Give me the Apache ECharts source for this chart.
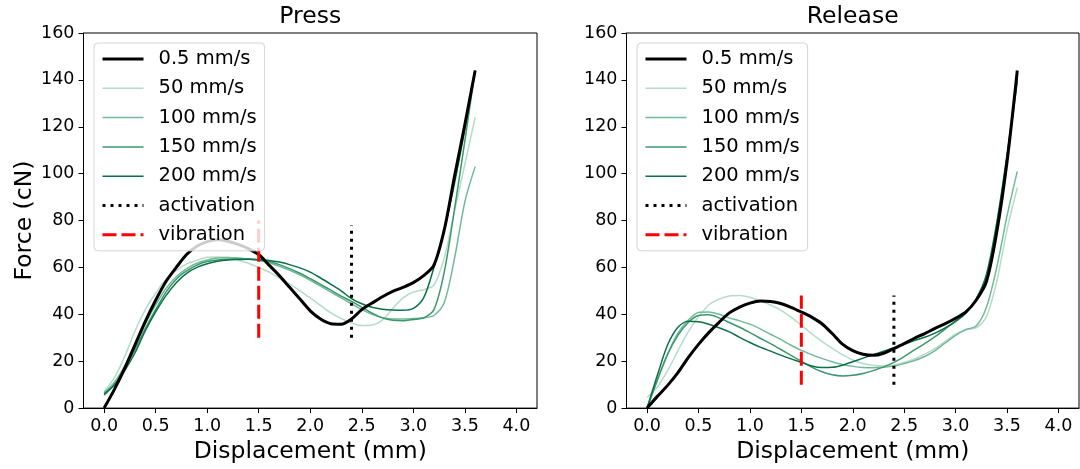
<!DOCTYPE html>
<html><head><meta charset="utf-8">
<script src="https://cdn.jsdelivr.net/npm/echarts@6/dist/echarts.min.js"></script>
<style>html,body{margin:0;padding:0;background:#fff}#c{width:1080px;height:469px}</style>
</head><body><div id="c"></div>
<script>
// Displacement grid (mm)
const xs = [0.0,0.1,0.2,0.3,0.4,0.5,0.6,0.7,0.8,0.9,1.0,1.1,1.2,1.3,1.4,1.5,1.6,1.7,1.8,1.9,2.0,2.1,2.2,2.3,2.4,2.5,2.6,2.7,2.8,2.9,3.0,3.1,3.2,3.3,3.4,3.5,3.6];

// Press forces (cN)
const press05  = [0,8,17,27,37,46,54,60,65.5,69,71,71.8,71.2,69.8,68,65.5,61,56.5,51.5,46.5,41.5,38,36,35.8,38,42,44.8,47.5,49.8,51.5,53.5,56.5,61,76,99,121,144];
const press50  = [7,13,22,33,42,49,55,58.7,61.5,63,64.3,64.5,64.2,63.2,61.8,60,58,55.5,53,50,47,43.8,40.6,38.2,36.3,35.2,35.4,37.5,42.5,47,49.5,50.5,52.5,64,84,104,124];
const press100 = [6.5,11,18,27,36,44,51,56,59.5,61.8,63.2,64,64.2,64,63.6,63,62,60.5,58.8,56.8,54.5,52,49.5,47,44.5,42,40,38.6,38,38,38.2,38.5,39.5,45,64,88,103];
const press150 = [5.5,10,17,25,34,42,49.5,55,58.5,61,62.5,63.2,63.5,63.6,63.5,63.2,62.5,61.2,59.5,57.5,55.2,52.8,50.3,47.8,45.5,43,40.5,38.5,37.5,37.3,37.8,38.5,42,58,85,114,144];
const press200 = [6,10,16,23.6,33,41,48,53.5,57.5,60,61.6,62.6,63.2,63.4,63.5,63.3,63,62.3,61.2,59.8,58,55.5,52.8,50,46.7,44.5,43,42.2,41.8,41.7,42.5,47,60,76,96,119,144];

// Release forces (cN)
const release05  = [0,5,9.7,15.1,21.5,27.2,32.2,36.6,40.6,43.1,44.8,45.7,45.5,44.6,43,41,38.8,36,31.8,27.3,24.5,23,22.5,23.4,25.4,27.5,29.8,31.8,34,36,38.3,41,46,54,75,105,144];
const release50  = [4.5,9,16,24.5,32.5,39,44,46.5,47.8,48,47.3,45.8,44,41.8,38.8,35.3,31.8,28.5,25.5,22.8,20.5,19,18.2,18,18.3,19.5,21,23,25.5,28.5,31.5,33.5,34.2,39,54,76,94];
const release100 = [0,12,23,32,37.5,40.8,41,40,38.5,37.2,35.8,33.8,31.5,29.3,26.8,24.6,22.8,21.2,19.8,18.6,17.8,17.3,17.2,17.4,17.9,19,20.3,22,24.5,27.8,31,33.5,35,43,60,82,101];
const release150 = [0,12,23,31,36.5,39.5,39.8,38.5,36.5,34.5,32.2,29.8,27.5,25,22.5,20,17.5,15.5,14.2,13.7,14,14.8,16,17.6,19.5,22,24.8,27.5,30.5,33.8,37.2,41,46.5,56,78,107,139];
const release200 = [0,14,27,34.5,37,36.8,35.8,34.3,32.5,30.2,28,26,24.3,22.6,21,19.5,18,17.3,17.4,18.3,19.8,21.3,22.8,24.3,25.8,27.3,28.8,30.2,32,34.2,37,40.5,46.5,57,79,108,141];

// Marker lines: [x, yFrom, yTo]
const pressActivation   = [2.4, 30, 78];
const pressVibration    = [1.5, 30, 80];
const releaseActivation = [2.4, 10, 48];
const releaseVibration  = [1.5, 10, 48];

const names = ['0.5 mm/s','50 mm/s','100 mm/s','150 mm/s','200 mm/s','activation','vibration'];
const titles = ['Press','Release'];
const xTicks = [0.0,0.5,1.0,1.5,2.0,2.5,3.0,3.5,4.0];
const xLabel = 'Displacement (mm)';
const yLabel = 'Force (cN)';

const FONT = 'DejaVu Sans';
const curveColors = ['#000000','#b5dcc9','#6fba99','#3b976c','#0a7049'];
const curveWidths = [3,1.5,1.5,1.5,1.5];

const grids = [
  {left:83.5, top:33, width:453.5, height:376},
  {left:626.5, top:33, width:452.5, height:376}
];

function toPts(ys){ return xs.map((x,i)=>[x,ys[i]]); }
function vline(m){ return [[m[0],m[1]],[m[0],m[2]]]; }

const sets = [
  {curves:[press05,press50,press100,press150,press200], act:pressActivation, vib:pressVibration},
  {curves:[release05,release50,release100,release150,release200], act:releaseActivation, vib:releaseVibration}
];

const series = [];
sets.forEach((s,g)=>{
  s.curves.forEach((ys,i)=>{
    series.push({
      type:'line', name:names[i], xAxisIndex:g, yAxisIndex:g,
      data:toPts(ys), symbol:'none', smooth:0.3,
      lineStyle:{color:curveColors[i], width:curveWidths[i]},
      itemStyle:{color:curveColors[i]}, z: 2 + (i===0?0.5:0)
    });
  });
  series.push({type:'line', name:'activation', xAxisIndex:g, yAxisIndex:g, data:vline(s.act), symbol:'none',
    lineStyle:{color:'#000', width:3, type:[3,5], cap:'butt'}, itemStyle:{color:'#000'}, z:3});
  series.push({type:'line', name:'vibration', xAxisIndex:g, yAxisIndex:g, data:vline(s.vib), symbol:'none',
    lineStyle:{color:'#ff0000', width:3, type:[14,5], cap:'butt'}, itemStyle:{color:'#ff0000'}, z:3});
});

const axisText = {color:'#000', fontFamily:FONT, fontSize:17.5};
const xAxes = grids.map((g,i)=>({
  type:'value', gridIndex:i, min:-0.2, max:4.2,
  axisLine:{show:true, onZero:false, lineStyle:{color:'#000', width:1}},
  axisTick:{show:true, length:5, customValues:xTicks, lineStyle:{color:'#000'}},
  axisLabel:Object.assign({customValues:xTicks, margin:9, formatter:v=>Number(v).toFixed(1)}, axisText),
  splitLine:{show:false},
  name:xLabel, nameLocation:'middle', nameGap:29,
  nameTextStyle:{color:'#000', fontFamily:FONT, fontSize:23.5}
}));
const yAxes = grids.map((g,i)=>({
  type:'value', gridIndex:i, min:0, max:160, interval:20,
  axisLine:{show:true, onZero:false, lineStyle:{color:'#000', width:1}},
  axisTick:{show:true, length:5, lineStyle:{color:'#000'}},
  axisLabel:Object.assign({margin:9}, axisText),
  splitLine:{show:false},
  name: i===0 ? yLabel : '', nameLocation:'middle', nameGap:43,
  nameTextStyle:{color:'#000', fontFamily:FONT, fontSize:23.5}
}));

const legends = [94, 637].map(left=>({
  left:left, top:43, orient:'vertical', data:names, selectedMode:false,
  itemWidth:41, itemHeight:14, itemGap:9.3, padding:[6,8,6,7],
  backgroundColor:'rgba(255,255,255,0.8)', borderColor:'#d4d4d4', borderWidth:1, borderRadius:4,
  textStyle:{color:'#000', fontFamily:FONT, fontSize:19.5, lineHeight:20, padding:[0,0,0,10]},
  lineStyle:{width:'inherit'}, itemStyle:{opacity:0}
}));

const chart = echarts.init(document.getElementById('c'), null, {renderer:'canvas'});
chart.setOption({
  animation:false,
  backgroundColor:'#fff',
  title: titles.map((t,i)=>({text:t, left:grids[i].left+grids[i].width/2, top:5, textAlign:'center', padding:0,
    textStyle:{color:'#000', fontFamily:FONT, fontSize:23.5, fontWeight:'normal'}})),
  grid: grids.map(g=>Object.assign({show:true, borderColor:'#000', borderWidth:1, backgroundColor:'transparent'}, g)),
  xAxis:xAxes, yAxis:yAxes, legend:legends, series:series
});
</script></body></html>
